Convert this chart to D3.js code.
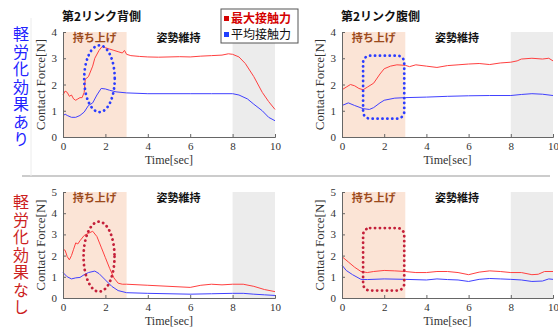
<!DOCTYPE html>
<html>
<head>
<meta charset="utf-8">
<style>
  body { margin: 0; background: #fff; }
  svg text { font-family: "Noto Sans CJK JP", "Noto Sans", sans-serif; }
  .tick text { font-family: "Liberation Serif", "DejaVu Serif", serif; font-size: 11px; fill: #333; }
  .axlab { font-family: "Liberation Serif", "DejaVu Serif", serif; fill: #333; }
</style>
</head>
<body>
<script src="https://cdn.jsdelivr.net/npm/d3@7/dist/d3.min.js"></script>
<script>
// ---- data ----
var xTicks = [0, 2, 4, 6, 8, 10]

// top left: 第2リンク背側 (with effect)
var backOnMaxT = [0,0.1,0.2,0.3,0.4,0.5,0.6,0.7,0.8,0.9,1.0,1.05,1.2,1.4,1.5,1.7,1.85,2.0,2.2,2.4,2.6,2.8,2.9,3.0,3.2,3.6,4,4.5,5,5.5,6,6.5,7,7.5,7.8,8.0,8.3,8.6,9.0,9.4,9.7,10]
var backOnMaxV = [1.6,1.75,1.7,1.55,1.6,1.45,1.4,1.45,1.5,1.5,1.7,2.2,2.3,2.7,3.0,3.3,3.45,3.4,3.35,3.3,3.25,3.2,3.3,3.15,3.1,3.07,3.05,3.04,3.05,3.06,3.05,3.08,3.1,3.12,3.17,3.15,3.05,2.8,2.3,1.7,1.35,1.05]
var backOnAvgT = [0,0.1,0.2,0.4,0.6,0.8,1.0,1.2,1.4,1.6,1.8,2.0,2.2,2.5,3.0,4,5,6,7,8,8.3,8.7,9.0,9.4,9.7,10]
var backOnAvgV = [0.8,0.87,0.82,0.75,0.75,0.82,0.95,1.2,1.3,1.6,1.85,1.83,1.78,1.72,1.68,1.65,1.65,1.65,1.65,1.65,1.6,1.45,1.25,1.0,0.75,0.62]

// top right: 第2リンク腹側 (with effect)
var bellyOnMaxT = [0,0.2,0.4,0.6,0.8,1.0,1.2,1.5,1.8,2.0,2.3,2.6,3.0,3.2,3.5,4.0,4.5,5,5.5,6,6.5,7,7.5,8,8.3,8.5,9,9.5,9.8,10]
var bellyOnMaxV = [1.8,1.9,2.0,1.95,1.85,1.8,1.9,2.05,2.4,2.6,2.7,2.75,2.73,2.68,2.75,2.7,2.65,2.72,2.75,2.78,2.8,2.76,2.82,2.85,2.9,2.97,3.0,2.97,3.0,2.9]
var bellyOnAvgT = [0,0.3,0.6,1.0,1.3,1.5,1.8,2.0,2.5,3.0,4,5,6,7,8,8.5,9,9.5,10]
var bellyOnAvgV = [1.2,1.3,1.2,1.08,1.05,1.12,1.3,1.4,1.48,1.5,1.52,1.55,1.57,1.58,1.58,1.62,1.65,1.63,1.58]

// bottom left: 第2リンク背側 (without effect)
var backOffMaxT = [0,0.1,0.2,0.3,0.4,0.5,0.6,0.7,0.8,1.0,1.2,1.4,1.6,1.8,2.0,2.2,2.4,2.6,2.8,3,4,5,6,6.5,7,7.5,8,8.5,9,9.5,10]
var backOffMaxV = [2.3,2.25,1.95,1.8,2.0,2.3,2.6,2.55,2.7,2.95,3.05,3.15,2.9,2.4,1.9,1.4,0.95,0.7,0.65,0.65,0.6,0.55,0.5,0.6,0.65,0.62,0.65,0.65,0.55,0.4,0.3]
var backOffAvgT = [0,0.2,0.4,0.6,0.8,1.0,1.2,1.5,1.7,2.0,2.3,2.6,3.0,4,5,6,7,8,8.5,9,9.5,10]
var backOffAvgV = [1.2,1.0,0.9,0.95,0.97,1.1,1.2,1.27,1.15,0.85,0.55,0.35,0.25,0.22,0.2,0.18,0.2,0.22,0.22,0.18,0.15,0.12]

// bottom right: 第2リンク腹側 (without effect)
var bellyOffMaxT = [0,0.3,0.6,0.9,1.2,1.5,2,2.5,3,3.5,4,4.5,5,5.5,6,6.5,7,7.5,8,8.5,9,9.3,9.6,10]
var bellyOffMaxV = [1.95,1.7,1.45,1.25,1.2,1.25,1.3,1.28,1.25,1.2,1.2,1.25,1.25,1.2,1.1,1.22,1.28,1.25,1.2,1.2,1.1,1.12,1.25,1.25]
var bellyOffAvgT = [0,0.2,0.5,0.9,1.2,2,3,4,4.5,5,5.5,6,6.5,7,7.5,8,8.5,9,9.5,9.8,10]
var bellyOffAvgV = [1.55,1.3,1.1,0.88,0.87,0.9,0.88,0.85,0.9,0.87,0.85,0.78,0.88,0.92,0.9,0.88,0.85,0.78,0.8,0.9,0.88]

// ---- layout ----
var width = 558, height = 329
var svg = d3.select("body").append("svg").attr("width", width).attr("height", height)

var red = "#ff4040", blue = "#4040ff"

var panels = [
  {x0: 63, x1: 275, y0: 32, y1: 137, ymax: 4, title: "第2リンク背側",
   maxT: backOnMaxT, maxV: backOnMaxV, avgT: backOnAvgT, avgV: backOnAvgV,
   mark: {type: "ellipse", cx: 1.72, cy: 2.22, rx: 0.72, ry: 1.27, color: "#2a3cff"}},
  {x0: 342, x1: 553, y0: 32, y1: 137, ymax: 4, title: "第2リンク腹側",
   maxT: bellyOnMaxT, maxV: bellyOnMaxV, avgT: bellyOnAvgT, avgV: bellyOnAvgV,
   mark: {type: "rect", t0: 1.0, t1: 2.95, v0: 0.7, v1: 3.1, color: "#2a3cff"}},
  {x0: 63, x1: 275, y0: 192, y1: 298, ymax: 5,
   maxT: backOffMaxT, maxV: backOffMaxV, avgT: backOffAvgT, avgV: backOffAvgV,
   mark: {type: "ellipse", cx: 1.7, cy: 1.95, rx: 0.73, ry: 1.65, color: "#c4203a"}},
  {x0: 342, x1: 553, y0: 192, y1: 298, ymax: 5,
   maxT: bellyOffMaxT, maxV: bellyOffMaxV, avgT: bellyOffAvgT, avgV: bellyOffAvgV,
   mark: {type: "rect", t0: 1.0, t1: 2.95, v0: 0.35, v1: 3.3, color: "#c4203a"}}
]

panels.forEach(function(p) {
  var x = d3.scaleLinear().domain([0, 10]).range([p.x0, p.x1])
  var y = d3.scaleLinear().domain([0, p.ymax]).range([p.y1, p.y0])
  var g = svg.append("g")

  // shaded phases
  g.append("rect").attr("x", x(0)).attr("y", y(p.ymax))
    .attr("width", x(3) - x(0)).attr("height", y(0) - y(p.ymax)).attr("fill", "#fbe4d6")
  g.append("rect").attr("x", x(8)).attr("y", y(p.ymax))
    .attr("width", x(10) - x(8)).attr("height", y(0) - y(p.ymax)).attr("fill", "#ececec")

  g.append("text").attr("x", x(1.5)).attr("y", y(p.ymax) + 10).attr("text-anchor", "middle")
    .attr("font-size", 11).attr("font-weight", "bold").attr("fill", "#9b4a1c").text("持ち上げ")
  g.append("text").attr("x", x(5.45)).attr("y", y(p.ymax) + 10).attr("text-anchor", "middle")
    .attr("font-size", 11).attr("font-weight", "bold").attr("fill", "#111").text("姿勢維持")

  // lines
  var line = d3.line().x(function(d) { return x(d[0]) }).y(function(d) { return y(d[1]) })
  g.append("path").datum(d3.zip(p.maxT, p.maxV)).attr("d", line)
    .attr("fill", "none").attr("stroke", red).attr("stroke-width", 1)
  g.append("path").datum(d3.zip(p.avgT, p.avgV)).attr("d", line)
    .attr("fill", "none").attr("stroke", blue).attr("stroke-width", 1)

  // axes (ticks inward, matlab style)
  var xAxis = d3.axisBottom(x).tickValues(xTicks).tickSize(-3).tickPadding(5).tickFormat(d3.format("d"))
  var yAxis = d3.axisLeft(y).ticks(p.ymax).tickSize(-3).tickPadding(6).tickFormat(d3.format("d"))
  var gx = g.append("g").attr("transform", "translate(0," + p.y1 + ")").call(xAxis)
  var gy = g.append("g").attr("transform", "translate(" + p.x0 + ",0)").call(yAxis)
  ;[gx, gy].forEach(function(a) {
    a.attr("font-family", "'Liberation Serif', serif")
    a.select(".domain").attr("stroke", "#666")
    a.selectAll(".tick line").attr("stroke", "#666")
    a.selectAll(".tick text").attr("font-size", 11).attr("fill", "#333")
  })

  g.append("text").attr("class", "axlab").attr("text-anchor", "middle").attr("font-size", 12)
    .attr("x", (p.x0 + p.x1) / 2).attr("y", p.y1 + 27).text("Time[sec]")
  g.append("text").attr("class", "axlab").attr("text-anchor", "middle").attr("font-size", 13)
    .attr("transform", "translate(" + (p.x0 - 18) + "," + ((p.y0 + p.y1) / 2) + ") rotate(-90)")
    .text("Contact Force[N]")

  if (p.title) {
    g.append("text").attr("x", p.x0 - 1).attr("y", 21).attr("font-size", 12)
      .attr("font-weight", "bold").attr("fill", "#111").text(p.title)
  }

  // dotted highlight
  var m = p.mark
  if (m.type === "ellipse") {
    g.append("ellipse").attr("cx", x(m.cx)).attr("cy", y(m.cy))
      .attr("rx", x(m.cx + m.rx) - x(m.cx)).attr("ry", y(m.cy) - y(m.cy + m.ry))
      .attr("fill", "none").attr("stroke", m.color).attr("stroke-width", 2.8)
      .attr("stroke-dasharray", "0.1 4.8").attr("stroke-linecap", "round")
  } else {
    g.append("rect").attr("x", x(m.t0)).attr("y", y(m.v1))
      .attr("width", x(m.t1) - x(m.t0)).attr("height", y(m.v0) - y(m.v1))
      .attr("rx", 7).attr("fill", "none").attr("stroke", m.color).attr("stroke-width", 2.8)
      .attr("stroke-dasharray", "0.1 4.8").attr("stroke-linecap", "round")
  }
})

// divider + faint guide
svg.append("line").attr("x1", 22).attr("x2", 550).attr("y1", 176).attr("y2", 176)
  .attr("stroke", "#999").attr("stroke-width", 1)
svg.append("line").attr("x1", 31).attr("x2", 31).attr("y1", 18).attr("y2", 176)
  .attr("stroke", "#ececec").attr("stroke-width", 1)

// side labels (vertical writing)
function vertical(txt, x0, y0, color) {
  svg.append("text").attr("x", x0).attr("y", y0)
    .style("writing-mode", "vertical-rl").style("letter-spacing", "1.5px")
    .attr("font-size", 16).attr("fill", color).text(txt)
}
vertical("軽労化効果あり", 21, 26, "#2323ff")
vertical("軽労化効果なし", 21, 194, "#cc1f1f")

// legend
var lg = svg.append("g")
lg.append("rect").attr("x", 221).attr("y", 9).attr("width", 77).attr("height", 34)
  .attr("fill", "#fff").attr("stroke", "#555").attr("stroke-width", 1)
lg.append("rect").attr("x", 224).attr("y", 16).attr("width", 5).attr("height", 5).attr("fill", "#d40000")
lg.append("text").attr("x", 231).attr("y", 23).attr("font-size", 12).attr("font-weight", "bold")
  .attr("fill", "#d40000").text("最大接触力")
lg.append("rect").attr("x", 224).attr("y", 32).attr("width", 5).attr("height", 5).attr("fill", "#1f3fff")
lg.append("text").attr("x", 231).attr("y", 39).attr("font-size", 12)
  .attr("fill", "#111").text("平均接触力")
</script>
</body>
</html>
